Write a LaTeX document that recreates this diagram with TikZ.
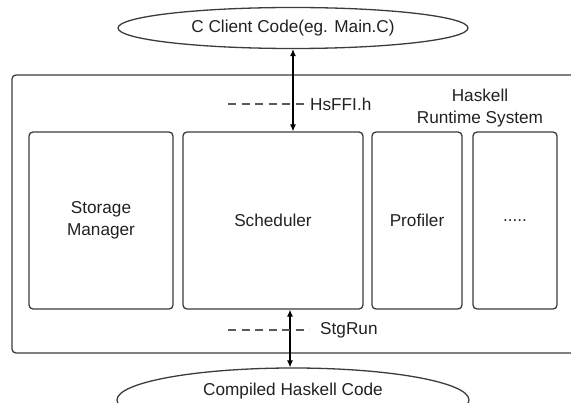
\documentclass[tikz,border=0pt]{standalone}
\usepackage{fontspec}
\setmainfont{Liberation Sans}
\usetikzlibrary{shapes.geometric,arrows.meta}
\definecolor{lc}{HTML}{3C3C3C}
\definecolor{tc}{HTML}{222222}
\begin{document}
\begin{tikzpicture}[x=1pt,y=-1pt,
  every node/.style={text=tc, font=\fontsize{17.2}{21.5}\selectfont},
  ln/.style={draw=lc, line width=1.3pt},
  rbox/.style={ln, rounded corners=4pt, inner sep=0pt, align=center},
  oval/.style={ln, ellipse, inner sep=0pt},
  lbl/.style={inner sep=1pt, anchor=west},
  arr/.style={draw=black, line width=1.1pt, {Latex[length=7pt,width=6pt]}-{Latex[length=7pt,width=6pt]}},
  dashln/.style={draw=lc!85, line width=1.1pt, dash pattern=on 8pt off 5.5pt}]
\clip (0,0) rectangle (571,403);
\fill[white] (0,0) rectangle (571,403);
% outer runtime box (extends past the right edge)
\node[rbox, minimum width=588pt, minimum height=278pt] (rts) at (306,214) {};
% ellipses
\node[oval, minimum width=350pt, minimum height=41pt] (client) at (293,28) {C Client Code(eg. Main.C)};
\node[oval, minimum width=352pt, minimum height=64pt] (compiled) at (293,400) {};
\node (compiledtxt) at (293,391) {Compiled Haskell Code};
% inner boxes
\node[rbox, minimum width=144pt, minimum height=177pt] (storage) at (101,220.5) {Storage\\Manager};
\node[rbox, minimum width=180pt, minimum height=177pt] (sched) at (273,220.5) {Scheduler};
\node[rbox, minimum width=90pt, minimum height=177pt] (prof) at (417,220.5) {Profiler};
\node[rbox, minimum width=84pt, minimum height=177pt] (more) at (515,220.5) {.....};
% title
\node[align=center] (title) at (480,108) {Haskell\\Runtime System};
% connectors
\draw[arr] (client.south) -- (client.south |- sched.north);
\draw[arr] ([xshift=-3pt]compiled.north) -- ([xshift=-3pt]compiled.north |- sched.south);
% interface labels
\node[lbl] (hsffi) at (309,104) {HsFFI.h};
\coordinate (hsd) at (228,104);
\draw[dashln] (hsd) -- (hsffi.west);
\node[lbl] (stgrun) at (319,330) {StgRun};
\coordinate (sgd) at (228,330);
\draw[dashln] (sgd) -- ([xshift=-10pt]stgrun.west);
\end{tikzpicture}
\end{document}
